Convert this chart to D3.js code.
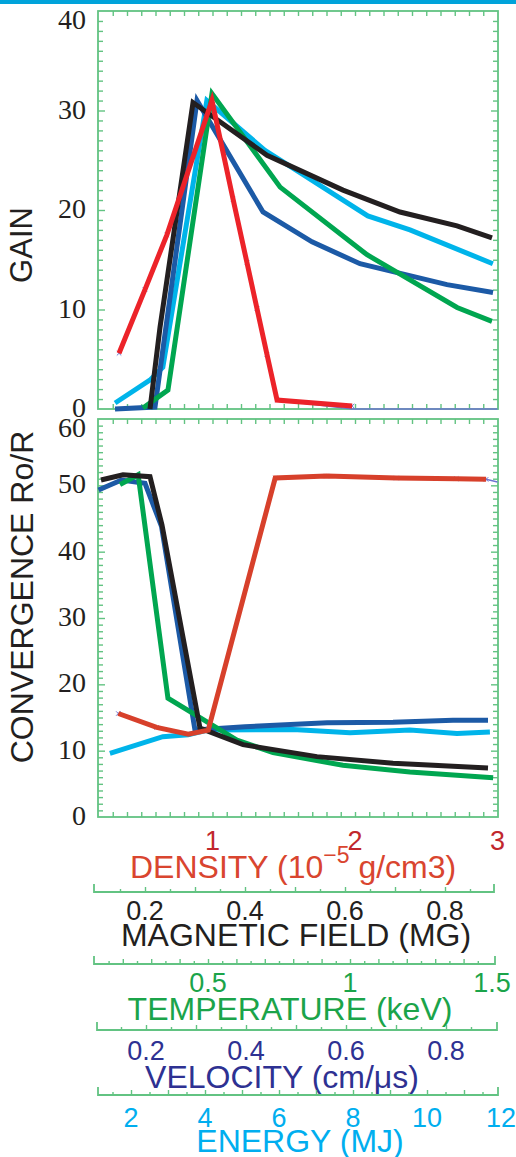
<!DOCTYPE html>
<html><head><meta charset="utf-8">
<script src="https://cdn.jsdelivr.net/npm/d3@7"></script>
<style>body{margin:0;background:#fff}svg{display:block}</style>
</head><body>
<svg id="c" width="516" height="1157"></svg>
<script>
// ---------------- DATA ----------------
const gainTicks = [0, 10, 20, 30, 40];
const convTicks = [0, 10, 20, 30, 40, 50, 60];
const densityTickLabels = [1, 2, 3];
const magneticTickLabels = [0.2, 0.4, 0.6, 0.8];
const temperatureTickLabels = [0.5, 1, 1.5];
const velocityTickLabels = [0.2, 0.4, 0.6, 0.8];
const energyTickLabels = [2, 4, 6, 8, 10, 12];

// GAIN (top panel)
const densityGain = [[0.344,5.6],[0.526,12],[0.68,17.5],[0.996,31],[1.144,21.1],[1.242,14.7],[1.312,10.1],[1.382,5.5],[1.453,0.9],[1.98,0.3]];
const magneticGain = [[0.21,0],[0.23,8.2],[0.296,30.8],[0.444,25.5],[0.596,22],[0.71,19.8],[0.824,18.4],[0.894,17.2]];
const temperatureGain = [[0.271,0.1],[0.359,1.9],[0.514,31.7],[0.754,22.3],[1.06,15.5],[1.377,10.2],[1.5,8.8]];
const velocityGain = [[0.138,0],[0.218,0.2],[0.302,31],[0.434,19.8],[0.532,16.8],[0.628,14.6],[0.802,12.5],[0.894,11.7]];
const energyGain = [[1.57,0.6],[2.51,2.9],[2.86,4.2],[4.05,31],[5.62,26],[8.4,19.4],[9.54,18],[11.78,14.6]];
const densityTraceTailGain = [[1.98,0],[3.0,0]];

// CONVERGENCE (bottom panel)
const densityConv = [[0.339,15.6],[0.608,13.5],[0.83,12.5],[0.97,13.1],[1.44,51.1],[1.8,51.4],[2.29,51.1],[2.71,51],[2.92,50.9]];
const magneticConv = [[0.112,50.8],[0.156,51.6],[0.21,51.3],[0.234,44],[0.31,13.4],[0.396,10.9],[0.544,9.1],[0.696,8.1],[0.886,7.4]];
const temperatureConv = [[0.19,50.1],[0.254,51.6],[0.359,17.9],[0.602,11.6],[0.729,9.7],[0.975,7.8],[1.211,6.8],[1.504,5.9]];
const velocityConv = [[0.105,49.3],[0.151,50.8],[0.198,50.3],[0.231,43.8],[0.298,13.1],[0.398,13.6],[0.562,14.2],[0.694,14.3],[0.814,14.6],[0.884,14.6]];
const energyConv = [[1.43,9.6],[2.86,12.1],[3.54,12.4],[4.08,13.1],[6.38,13.2],[7.92,12.7],[9.54,13.1],[10.81,12.6],[11.7,12.8]];
const densityTraceTailConv = [[3.0,50.5]];

// ---------------- CHART ----------------
const svg = d3.select('#c');
const W = 516;
const X0 = 98, X1 = 498;
const frameColor = '#62c382';
const SANS = '"Liberation Sans", Arial, Helvetica, sans-serif';
const SERIF = '"Liberation Serif", "Times New Roman", serif';

const C = {
  black: '#231f20', darkBlue: '#1c5aa6', lightBlue: '#00b4ea', green: '#00a650',
  redTop: '#ec2329', redBot: '#d7402b', trace: '#6d74d0',
  densLabel: '#c1272d', densTitle: '#d9452f', tempText: '#1ba44a', velText: '#2e3192', enText: '#00aeef'
};

svg.append('rect').attr('x',0).attr('y',0).attr('width',W).attr('height',4).attr('fill','#00a3da');

const xDensity = d3.scaleLinear().domain([0.2, 3.0]).range([98.5, 497.5]);
const xMag = d3.scaleLinear().domain([0.1, 0.9]).range([95, 495]);
const xTemp = d3.scaleLinear().domain([0.1, 1.5]).range([94.4, 492]);
const xVel = d3.scaleLinear().domain([0.1, 0.9]).range([96, 496]);
const xEnergy = d3.scaleLinear().domain([2, 12]).range([131, 501]);

const yGain = d3.scaleLinear().domain([0, 40]).range([409, 11]);
const yConv = d3.scaleLinear().domain([0, 60]).range([817, 419]);

const densMinor = d3.range(3, 30).map(i => i / 10);

function styleAxis(g) {
  g.select('.domain').remove();
  g.selectAll('.tick line').attr('stroke', frameColor).attr('stroke-width', 1.4);
  g.selectAll('.tick text').remove();
}

function panel(y, maxV, labels, labelNudge) {
  const yTop = y.range()[1], yBot = y.range()[0];
  const g = svg.append('g');
  const vals = d3.range(1, maxV);
  g.append('g').attr('transform', `translate(${X0},0)`)
    .call(d3.axisRight(y).tickValues(vals).tickSize(5)).call(styleAxis)
    .selectAll('.tick line').attr('x2', d => d % 10 === 0 ? 7 : 5);
  g.append('g').attr('transform', `translate(${X1},0)`)
    .call(d3.axisLeft(y).tickValues(vals).tickSize(5)).call(styleAxis)
    .selectAll('.tick line').attr('x2', d => d % 10 === 0 ? -7 : -5);
  g.append('g').attr('transform', `translate(0,${yTop})`)
    .call(d3.axisBottom(xDensity).tickValues(densMinor).tickSize(5)).call(styleAxis);
  g.append('g').attr('transform', `translate(0,${yBot})`)
    .call(d3.axisTop(xDensity).tickValues(densMinor).tickSize(5)).call(styleAxis);
  g.append('rect').attr('x', X0).attr('y', yTop).attr('width', X1 - X0).attr('height', yBot - yTop)
    .attr('fill', 'none').attr('stroke', frameColor).attr('stroke-width', 1.8);
  g.selectAll('text.yl').data(labels).enter().append('text')
    .attr('class', 'yl')
    .attr('x', 86)
    .attr('y', d => y(d) + (d === maxV ? labelNudge : 0) + 8)
    .attr('text-anchor', 'end')
    .attr('font-family', SERIF).attr('font-size', 28).attr('fill', '#231f20')
    .text(d => d);
}
panel(yGain, 40, gainTicks, 10);
panel(yConv, 60, convTicks, 10);

function drawLine(data, xs, ys, color, w) {
  svg.append('path').datum(data)
    .attr('d', d3.line().x(d => xs(d[0])).y(d => ys(d[1])))
    .attr('fill', 'none').attr('stroke', color).attr('stroke-width', w)
    .attr('stroke-linejoin', 'miter').attr('stroke-miterlimit', 6);
}
function drawMarks(data, xs, ys) {
  const s = 2.2;
  svg.append('g').selectAll('path').data(data).enter().append('path')
    .attr('d', d => { const x = xs(d[0]), y = ys(d[1]); return `M${x-s},${y-s}L${x+s},${y+s}M${x-s},${y+s}L${x+s},${y-s}`; })
    .attr('stroke', C.trace).attr('stroke-width', 1);
}

// thin trace lines under the density curves
drawLine(densityGain.slice(0, -1).concat(densityTraceTailGain), xDensity, yGain, C.trace, 1.5);
drawLine(densityConv.concat(densityTraceTailConv), xDensity, yConv, C.trace, 1.5);
drawMarks(densityGain, xDensity, yGain);
drawMarks(densityConv, xDensity, yConv);

// top panel
drawLine(energyGain, xEnergy, yGain, C.lightBlue, 5);
drawLine(velocityGain, xVel, yGain, C.darkBlue, 5);
drawLine(temperatureGain, xTemp, yGain, C.green, 5);
drawLine(magneticGain, xMag, yGain, C.black, 5);
drawLine(densityGain, xDensity, yGain, C.redTop, 5);
// bottom panel
drawLine(energyConv, xEnergy, yConv, C.lightBlue, 5);
drawLine(velocityConv, xVel, yConv, C.darkBlue, 5);
drawLine(temperatureConv, xTemp, yConv, C.green, 5);
drawLine(magneticConv, xMag, yConv, C.black, 5);
drawLine(densityConv, xDensity, yConv, C.redBot, 5);

// y titles
svg.append('text').attr('transform', 'translate(32,245) rotate(-90)')
  .attr('text-anchor', 'middle').attr('font-family', SANS).attr('font-size', 31).attr('fill', '#231f20').text('GAIN');
svg.append('text').attr('transform', 'translate(33,597) rotate(-90)')
  .attr('text-anchor', 'middle').attr('font-family', SANS).attr('font-size', 32).attr('fill', '#231f20').text('CONVERGENCE Ro/R');

// parameter axes below
function paramAxis(scale, yLine, xa, xb, ticks, majorTest, labels, fmt, labelBase, color, titleX, titleBase, title) {
  const g = svg.append('g');
  g.append('path').attr('d', `M${xa},${yLine-8}L${xa},${yLine}L${xb},${yLine}L${xb},${yLine-8}`)
    .attr('fill', 'none').attr('stroke', frameColor).attr('stroke-width', 1.8);
  g.append('g').attr('transform', `translate(0,${yLine})`)
    .call(d3.axisTop(scale).tickValues(ticks).tickSize(3)).call(styleAxis)
    .selectAll('.tick line').attr('y2', d => majorTest(d) ? -5 : -3);
  g.selectAll('text.tl').data(labels).enter().append('text')
    .attr('x', d => scale(d)).attr('y', labelBase)
    .attr('text-anchor', 'middle').attr('font-family', SANS).attr('font-size', 27).attr('fill', color)
    .text(fmt);
  if (title) {
    g.append('text').attr('x', titleX).attr('y', titleBase).attr('text-anchor', 'middle')
      .attr('font-family', SANS).attr('font-size', 32).attr('fill', color).text(title);
  }
}
const near = (v, step) => Math.abs(v / step - Math.round(v / step)) < 1e-6;

// density labels + title
svg.selectAll('text.dl').data(densityTickLabels).enter().append('text')
  .attr('x', d => xDensity(d)).attr('y', 850).attr('text-anchor', 'middle')
  .attr('font-family', SANS).attr('font-size', 27).attr('fill', C.densLabel).text(d => d);
const dt = svg.append('text').attr('x', 130).attr('y', 878)
  .attr('font-family', SANS).attr('font-size', 32).attr('fill', C.densTitle);
dt.append('tspan').text('DENSITY (10');
dt.append('tspan').attr('font-size', 23).attr('dy', -15).text('\u22125');
dt.append('tspan').attr('dy', 15).text(' g/cm3)');

paramAxis(xMag, 892, 94, 494, d3.range(3, 18).map(i => i * 0.05), d => near(d, 0.1),
  magneticTickLabels, d => d.toFixed(1), 920, C.black, 296, 946, 'MAGNETIC FIELD (MG)');
paramAxis(xTemp, 964, 94, 495, d3.range(3, 30).map(i => i * 0.05), d => near(d, 0.1),
  temperatureTickLabels, d => String(d), 992, C.tempText, 290, 1020, 'TEMPERATURE (keV)');
paramAxis(xVel, 1030, 97, 497, d3.range(3, 18).map(i => i * 0.05), d => near(d, 0.1),
  velocityTickLabels, d => d.toFixed(1), 1060, C.velText, 282, 1088, 'VELOCITY (cm/\u03bcs)');
paramAxis(xEnergy, 1095, 98, 498, d3.range(3, 24).map(i => i * 0.5), d => near(d, 1),
  energyTickLabels, d => String(d), 1127, C.enText, 300, 1152, 'ENERGY (MJ)');
</script>
</body></html>
